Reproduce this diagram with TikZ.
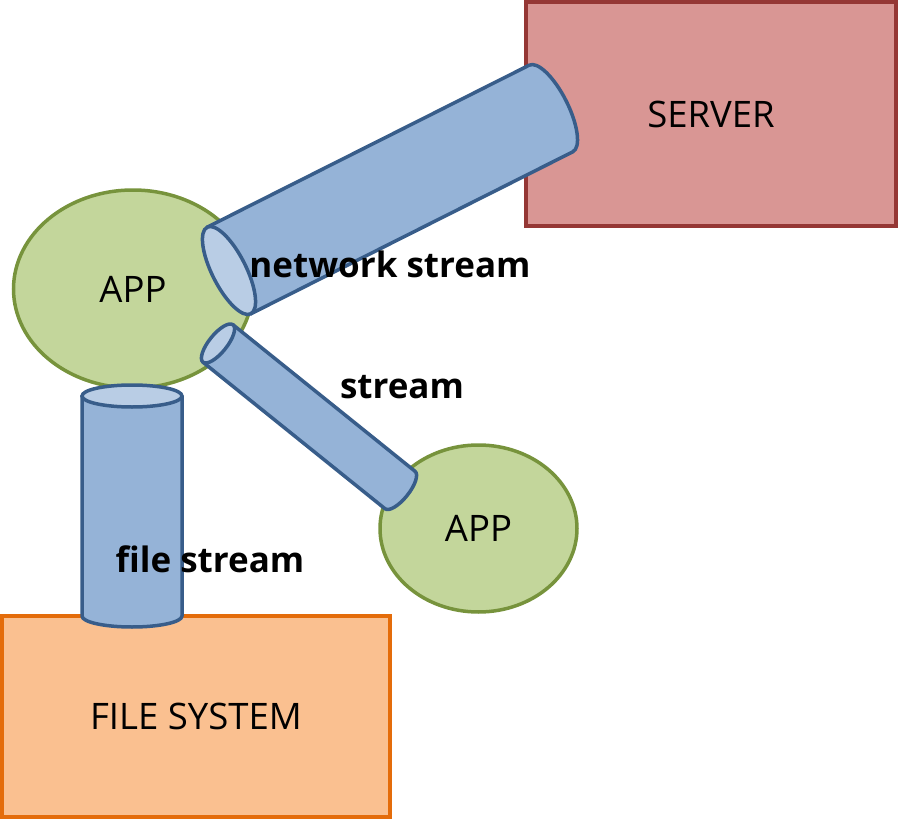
\documentclass[tikz,border=0pt]{standalone}
\usepackage{fontspec}
\setmainfont{Open Sans}
\usetikzlibrary{shapes.geometric,calc}

\definecolor{srvfill}{HTML}{D99694}
\definecolor{srvline}{HTML}{953735}
\definecolor{fsfill}{HTML}{FAC090}
\definecolor{fsline}{HTML}{E46C0A}
\definecolor{appfill}{HTML}{C3D69B}
\definecolor{appline}{HTML}{77933C}
\definecolor{tubefill}{HTML}{95B3D7}
\definecolor{tubeline}{HTML}{385D8A}
\definecolor{tubecap}{HTML}{B9CDE5}

\tikzset{
  app/.style={ellipse, draw=appline, fill=appfill, line width=3.5pt, inner sep=0pt},
  tubebody/.style={draw=tubeline, fill=tubefill, line width=3.5pt, line join=round},
  tubeend/.style={draw=tubeline, fill=tubecap, line width=3.5pt},
  streamtext/.style={font=\fontsize{35}{40}\selectfont\bfseries, anchor=base}
}

% tube from #1 (open end) to #2, radius #3, depth of the end #4
\newcommand{\tube}[4]{%
  \path let \p1=($(#2)-(#1)$) in
    \pgfextra{\pgfmathsetmacro\tubelen{veclen(\x1,\y1)}%
      \pgfmathsetmacro\tubeang{atan2(\y1,\x1)}%
      \xdef\tubeL{\tubelen}\xdef\tubeA{\tubeang}};
  \begin{scope}[shift={(#1)}, rotate=\tubeA]
    \draw[tubebody] (0,#3) -- (\tubeL,#3)
      arc[start angle=90, end angle=-90, x radius=#4, y radius=#3]
      -- (0,-#3) -- cycle;
    \draw[tubeend] (0,0) ellipse [x radius=#4, y radius=#3];
  \end{scope}}

\begin{document}
\begin{tikzpicture}[x=1pt, y=-1pt, font=\fontsize{36.5}{40}\selectfont]
  \useasboundingbox (0,0) rectangle (898,819);

  % Boxes and apps
  \node[draw=srvline, fill=srvfill, line width=3.5pt, minimum width=370pt, minimum height=224pt] (server) at (711,114) {SERVER};
  \node[draw=fsline, fill=fsfill, line width=3.5pt, minimum width=388pt, minimum height=201pt] (files) at (196,716.5) {FILE SYSTEM};
  \node[app, minimum width=239pt, minimum height=198pt] (app) at (133,289) {APP};
  \node[app, minimum width=197pt, minimum height=167pt] (peer) at (478.5,528.5) {APP};

  % Tube ends
  \coordinate (net-a) at (229,270.5);
  \coordinate (net-b) at (551,108.5);
  \coordinate (str-a) at (218,343.5);
  \coordinate (str-b) at (400,490);
  \coordinate (file-a) at (132,396);
  \coordinate (file-b) at (132,616);

  % Streams
  \tube{net-a}{net-b}{48.5}{17}
  \tube{str-a}{str-b}{24}{9}
  \tube{file-a}{file-b}{50}{11}

  \node[streamtext] (net-label) at (390,277) {network stream};
  \node[streamtext] (str-label) at (402,398) {stream};
  \node[streamtext] (file-label) at (210,572) {file stream};
\end{tikzpicture}
\end{document}
